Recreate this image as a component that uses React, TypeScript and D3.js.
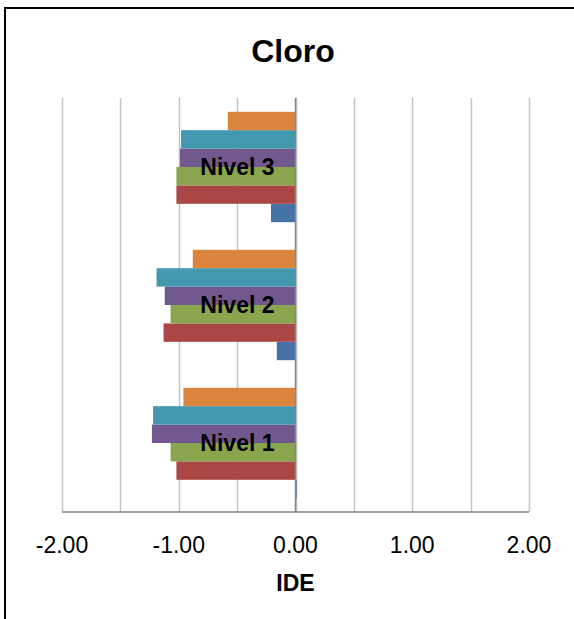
import React from 'react';
import * as d3 from 'd3';

const categories = ['Nivel 1', 'Nivel 2', 'Nivel 3'];
const seriesNames = ['S1', 'S2', 'S3', 'S4', 'S5', 'S6'];
const seriesColors = ['#4572A7', '#AA4643', '#89A54E', '#71588F', '#4198AF', '#DB843D'];
const s1 = [0.01, -0.16, -0.21];
const s2 = [-1.02, -1.13, -1.02];
const s3 = [-1.07, -1.07, -1.02];
const s4 = [-1.23, -1.12, -0.99];
const s5 = [-1.22, -1.19, -0.98];
const s6 = [-0.96, -0.88, -0.58];
const seriesValues = [s1, s2, s3, s4, s5, s6];
const gridTicks = [-2, -1.5, -1, -0.5, 0, 0.5, 1, 1.5, 2];
const labelTicks = [-2, -1, 0, 1, 2];
const title = 'Cloro';
const axisTitle = 'IDE';

const FONT = 'Liberation Sans, Arial, sans-serif';

export default function App() {
  const W = 574, H = 619;
  const left = 62, right = 529, top = 98, bottom = 512;
  const x = d3.scaleLinear().domain([-2, 2]).range([left, right]);
  const y = d3.scaleBand<string>().domain([...categories].reverse()).range([top, bottom]).padding(0);
  const yInner = d3.scaleBand<string>().domain([...seriesNames].reverse()).range([0, y.bandwidth()]).paddingInner(0).paddingOuter(0.75);
  const x0 = x(0);
  const fmt = (t: number) => t.toFixed(2);

  return (
    <svg width={W} height={H} style={{ position: 'absolute', left: 0, top: 0, background: '#fff' }} fontFamily={FONT}>
      <rect x={0} y={0} width={W} height={H} fill="#fff" />
      <rect x={5} y={8} width={W + 20} height={H + 20} fill="none" stroke="#000" strokeWidth={2} />
      <text x={293} y={62} textAnchor="middle" fontSize={32} fontWeight="bold" fill="#000">{title}</text>
      {gridTicks.map((t) => (
        <line key={'g' + t} x1={Math.round(x(t)) + 0.5} x2={Math.round(x(t)) + 0.5} y1={top} y2={bottom} stroke="#C4C4C4" strokeWidth={1.5} />
      ))}
      {categories.map((c, ci) => (
        <g key={c} transform={`translate(0,${y(c)})`}>
          {seriesNames.map((s, si) => {
            const v = seriesValues[si][ci];
            const xa = Math.min(x(v), x0), xb = Math.max(x(v), x0);
            return (
              <rect key={s} x={xa} y={yInner(s)} width={xb - xa} height={yInner.bandwidth()} fill={seriesColors[si]} />
            );
          })}
        </g>
      ))}
      <line x1={x0} x2={x0} y1={top} y2={bottom} stroke="#868686" strokeWidth={1.5} />
      <line x1={left} x2={right} y1={bottom} y2={bottom} stroke="#868686" strokeWidth={1.5} />
      {categories.map((c) => (
        <text key={'l' + c} x={x0 - 21} y={(y(c) as number) + y.bandwidth() / 2} dy="0.35em" textAnchor="end" fontSize={23} fontWeight="bold" fill="#000">{c}</text>
      ))}
      {labelTicks.map((t) => (
        <text key={'t' + t} x={x(t)} y={553} textAnchor="middle" fontSize={23} fill="#000">{fmt(t)}</text>
      ))}
      <text x={x0} y={591} textAnchor="middle" fontSize={23} fontWeight="bold" fill="#000">{axisTitle}</text>
    </svg>
  );
}
